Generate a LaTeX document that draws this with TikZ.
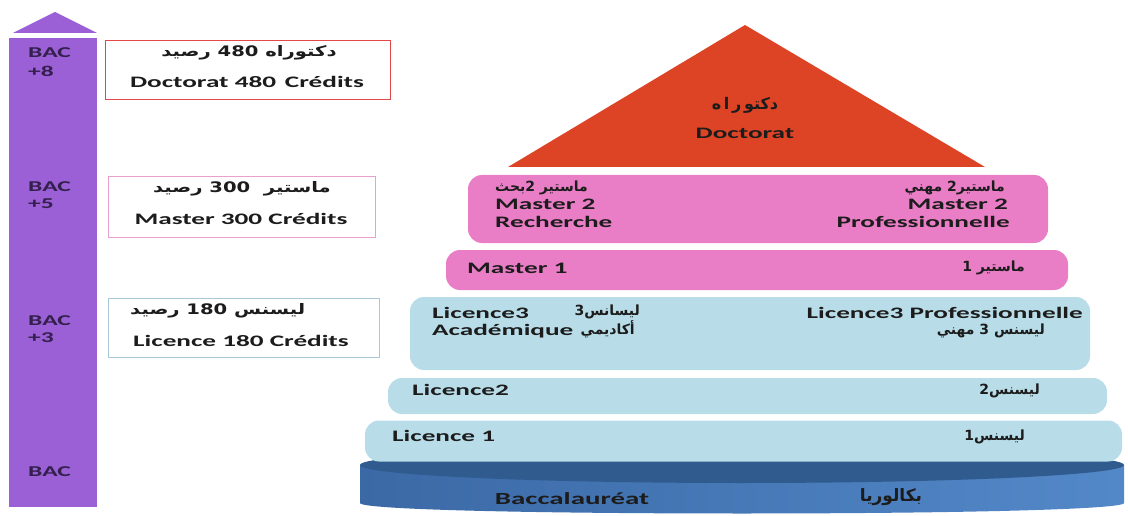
\documentclass[tikz,border=0pt]{standalone}
\usepackage{fontspec}
\setmainfont{Carlito}[FakeStretch=1.7]
\newfontfamily\arfont[Script=Arabic,FakeStretch=1.35]{DejaVu Sans}
\newfontfamily\arfontn[Script=Arabic,FakeStretch=1.0]{DejaVu Sans}
\TeXXeTstate=1
\newcommand{\artxt}[1]{{\arfont\bfseries\beginR #1\endR}}
\newcommand{\artxtn}[1]{{\arfontn\bfseries\beginR #1\endR}}
\newcommand{\lnum}[1]{\beginL #1\endL}

\definecolor{arrowviolet}{HTML}{9B5FD6}
\definecolor{bacink}{HTML}{33204D}
\definecolor{ink}{HTML}{1C1C1C}
\definecolor{docred}{HTML}{DD4426}
\definecolor{docedge}{HTML}{E0484A}
\definecolor{masterpink}{HTML}{E97EC6}
\definecolor{masteredge}{HTML}{E9A0CC}
\definecolor{licblue}{HTML}{B8DDE8}
\definecolor{licedge}{HTML}{A9C9D9}
\definecolor{bacdark}{HTML}{2F5B8F}
\definecolor{bacleft}{HTML}{3B69A6}
\definecolor{bacright}{HTML}{5388C8}

\tikzset{
  lat/.style={font=\fontsize{16}{17}\selectfont\bfseries, text=ink, inner sep=0pt},
  arb/.style={font=\fontsize{14}{17}\selectfont, text=ink, inner sep=0pt},
  arbox/.style={font=\fontsize{14.5}{17}\selectfont, text=ink, inner sep=0pt},
  tier/.style={rounded corners=14pt, inner sep=0pt},
  credit/.style={draw, line width=1pt, fill=white, inner sep=0pt, anchor=north west},
  baclbl/.style={font=\fontsize{15}{17}\selectfont\bfseries, text=bacink, inner sep=0pt, anchor=base west},
}

\begin{document}
\begin{tikzpicture}[x=1pt, y=-1pt]
\useasboundingbox (0,0) rectangle (1128,516);

% level arrow
\coordinate (tipL) at (13,33) ;
\coordinate (tip) at (55,12) ;
\coordinate (tipR) at (97,33) ;
\fill[arrowviolet] (tipL) -- (tip) -- (tipR) -- cycle;
\fill[arrowviolet] (9,38) rectangle (97,507);

\node[baclbl] (bac8) at (28,58) {BAC};
\node[baclbl] (bac8n) at (28,77) {+8};
\node[baclbl] (bac5) at (28,192) {BAC};
\node[baclbl] (bac5n) at (28,208) {+5};
\node[baclbl] (bac3) at (28,325) {BAC};
\node[baclbl] (bac3n) at (28,342) {+3};
\node[baclbl] (bac0) at (28,476) {BAC};

% credit boxes
\node[credit, draw=docedge, minimum width=285, minimum height=59] (docbox) at (105,40) {};
\node[arbox] (docar) at (249,53) {\artxt{دكتوراه \lnum{480} رصيد}};
\node[lat, anchor=base] (docfr) at (247,88) {Doctorat 480\, Crédits};

\node[credit, draw=masteredge, minimum width=267, minimum height=61] (masbox) at (108,176) {};
\node[arbox] (masar) at (242,189) {\artxt{ماستير \ \lnum{300} رصيد}};
\node[lat, anchor=base] (masfr) at (241,224) {Master 300 Crédits};

\node[credit, draw=licedge, minimum width=271, minimum height=59] (licbox) at (108,298) {};
\node[arbox, anchor=west] (licar) at (130,311) {\artxt{ليسنس \lnum{180} رصيد}};
\node[lat, anchor=base] (licfr) at (241,346) {Licence 180 Crédits};

% pyramid
\coordinate (docL) at (508,167) ;
\coordinate (docT) at (745,25) ;
\coordinate (docR) at (985,167) ;
\fill[docred] (docL) -- (docT) -- (docR) -- cycle;
\node[arb, font=\fontsize{16}{17}\selectfont] (doctar) at (745,105) {\artxtn{دكتو\,ر\,ا\,ه}};
\node[lat] (doctfr) at (745,133) {Doctorat};

\shade[left color=bacleft, right color=bacright] (360,465) -- (360,503) .. controls (360,517) and (1124,517) .. (1124,503) -- (1124,465) -- cycle;
\fill[bacdark] (742,465) ellipse (382 and 18);
\node[lat, font=\fontsize{17}{18}\selectfont\bfseries, anchor=base] (baccfr) at (572,504) {Baccalauréat};
\node[arb, font=\fontsize{17}{18}\selectfont] (baccar) at (891,497) {\artxtn{بكالوريا}};

\node[tier, fill=masterpink, minimum width=580, minimum height=68] (m2) at (758,209) {};
\node[arb, anchor=west] (m2lar) at (495,188) {\artxtn{ماستير 2بحث}};
\node[lat, anchor=base west] (m2l) at (495,210) {Master 2};
\node[lat, anchor=base west] (m2lb) at (495,227) {Recherche};
\node[arb, anchor=east] (m2rar) at (1005,188) {\artxtn{ماستير2 مهني}};
\node[lat, anchor=base east] (m2r) at (1008,210) {Master 2};
\node[lat, anchor=base east] (m2rb) at (1010,227) {Professionnelle};

\node[tier, fill=masterpink, minimum width=622, minimum height=40] (m1) at (757,270) {};
\node[lat, anchor=base west] (m1fr) at (467,273) {Master 1};
\node[arb, anchor=east] (m1ar) at (1025,268) {\artxtn{ماستير 1}};

\node[tier, fill=licblue, minimum width=680, minimum height=73] (l3) at (750,333.5) {};
\node[lat, anchor=base west] (l3fr) at (432,318) {Licence3};
\node[lat, anchor=base west] (l3frb) at (432,335) {Académique};
\node[arb, anchor=east] (l3ar) at (640,312) {\artxtn{ليسانس3}};
\node[arb, anchor=east] (l3arb) at (635,329) {\artxtn{أكاديمي}};
\node[lat, anchor=base east] (l3pro) at (1083,318) {Licence3 Professionnelle};
\node[arb, anchor=east] (l3proar) at (1045,331) {\artxtn{ليسنس 3 مهني}};

\node[tier, fill=licblue, minimum width=719, minimum height=36] (l2) at (747.5,396) {};
\node[lat, anchor=base west] (l2fr) at (412,395) {Licence2};
\node[arb, anchor=east] (l2ar) at (1040,391) {\artxtn{ليسنس2}};

\node[tier, fill=licblue, minimum width=757, minimum height=41] (l1) at (743.5,441) {};
\node[lat, anchor=base west] (l1fr) at (392,441) {Licence 1};
\node[arb, anchor=east] (l1ar) at (1025,437) {\artxtn{ليسنس1}};
\end{tikzpicture}
\end{document}
